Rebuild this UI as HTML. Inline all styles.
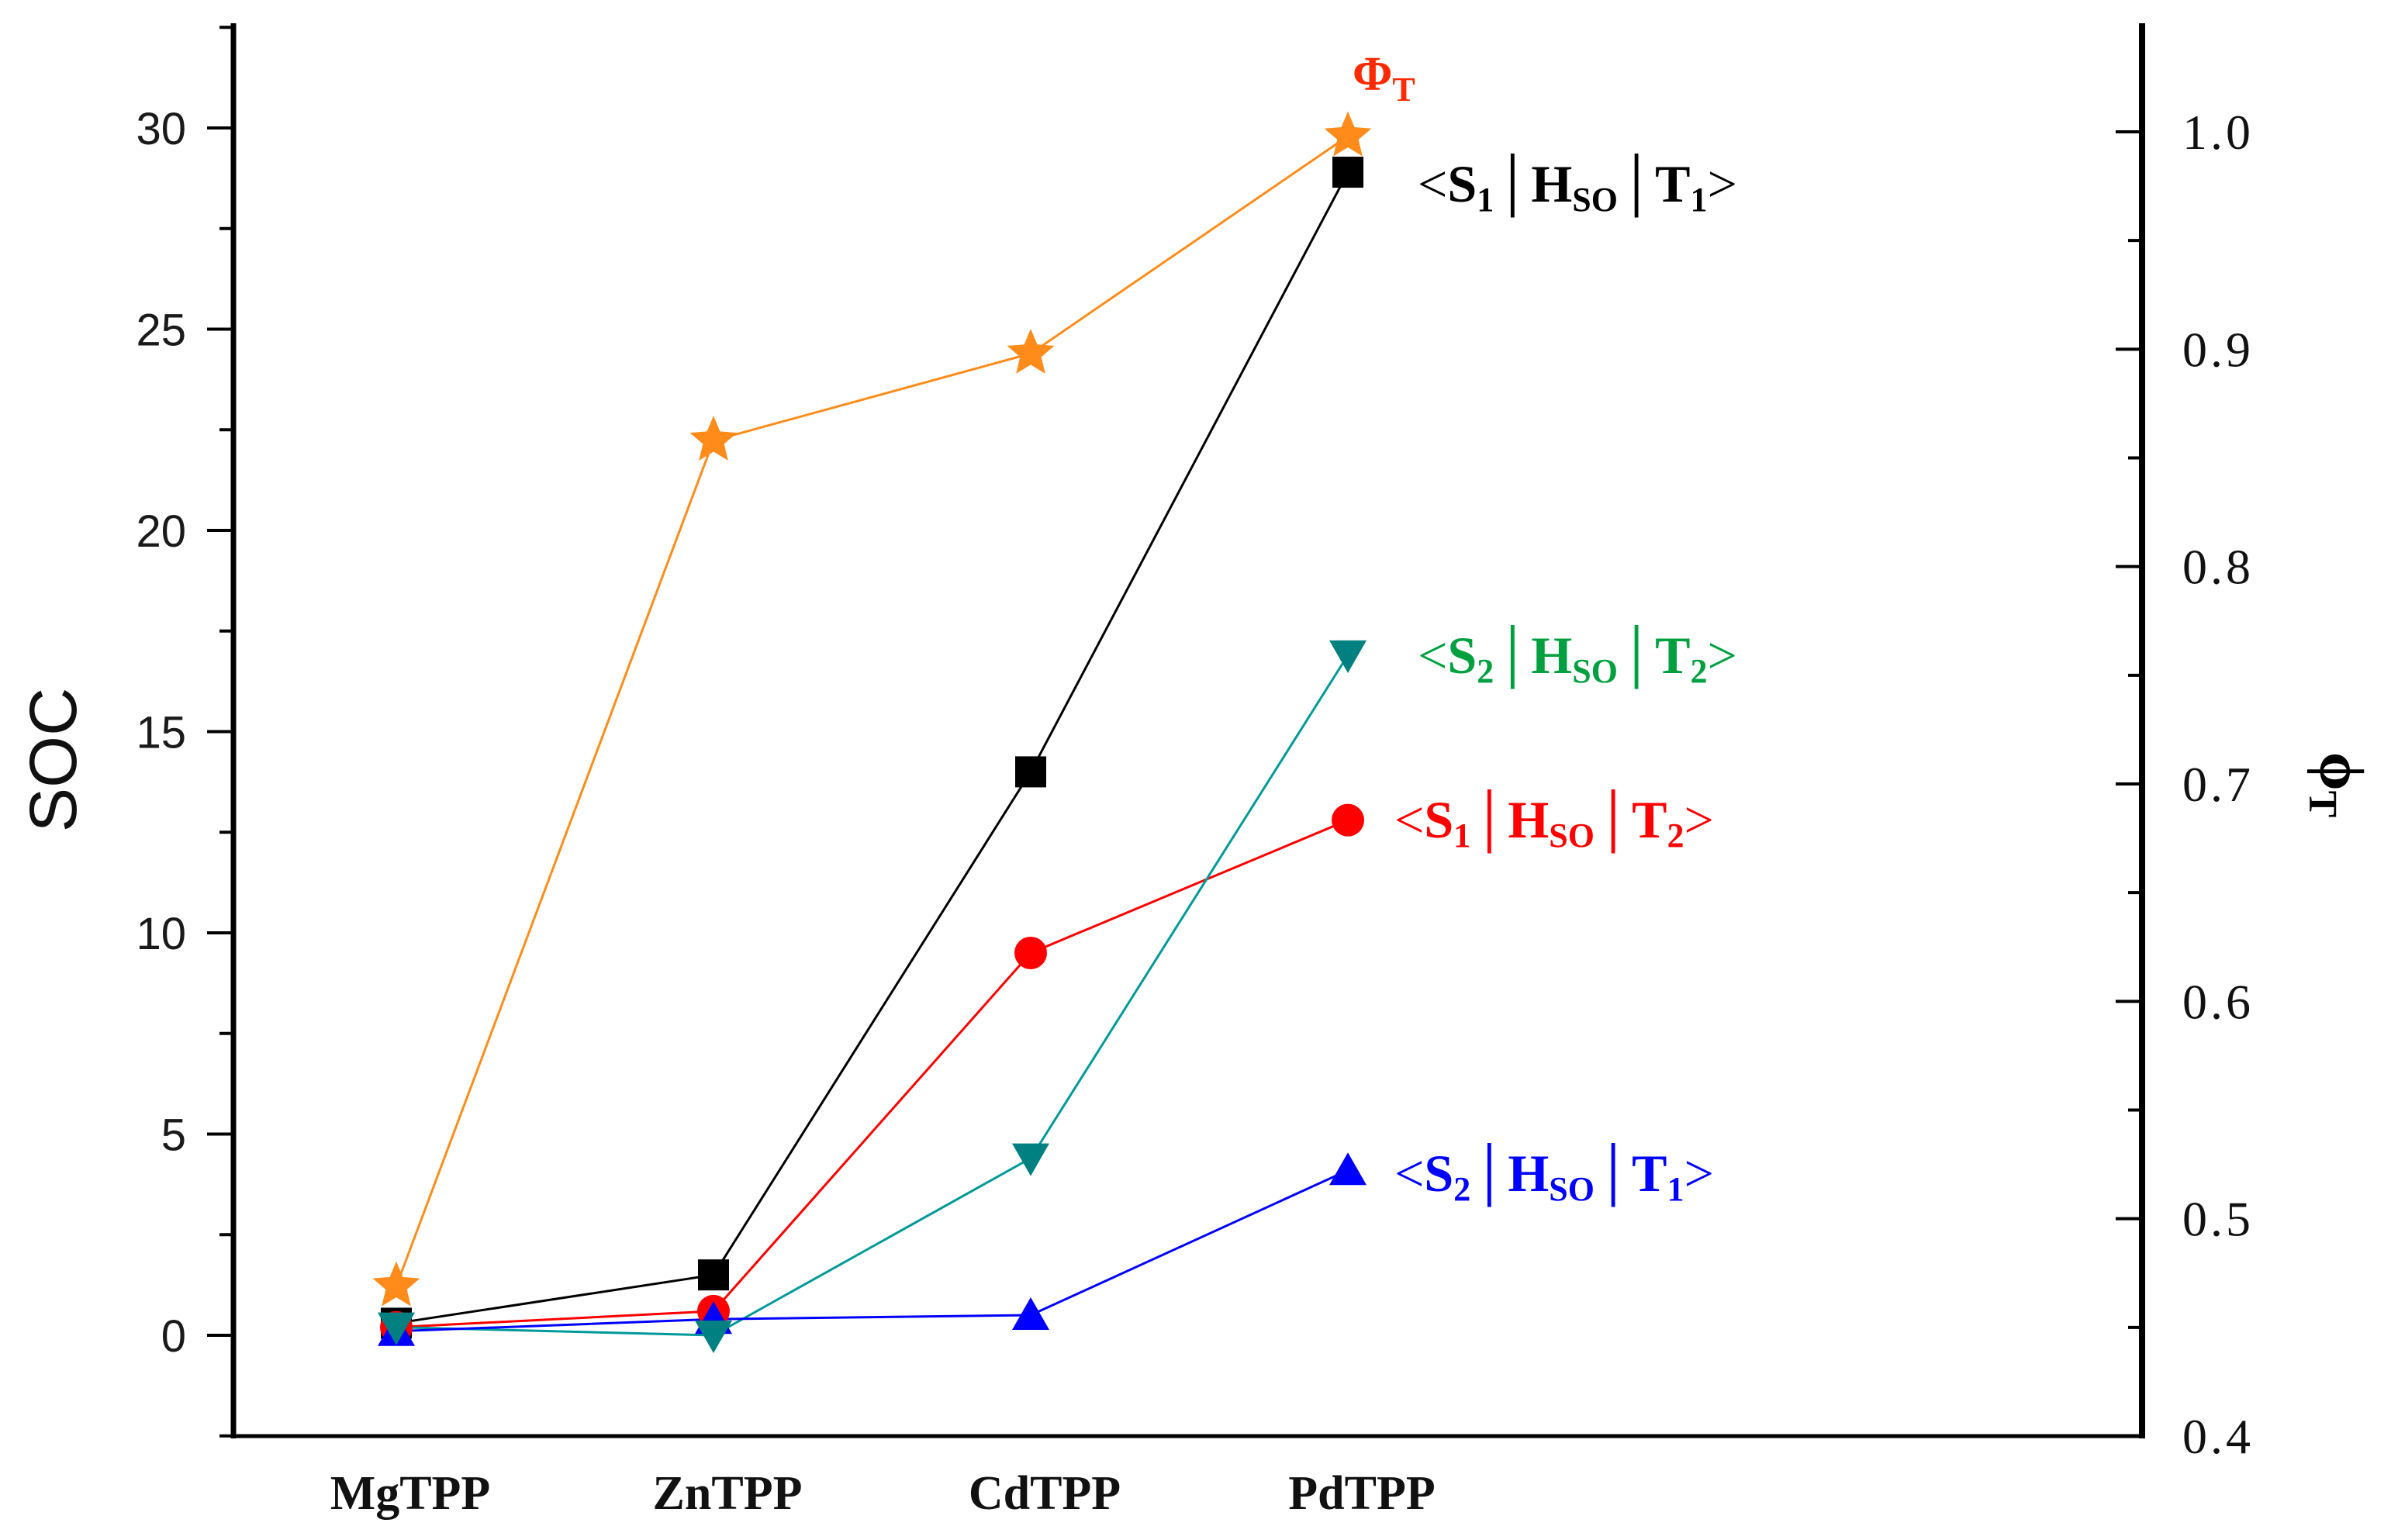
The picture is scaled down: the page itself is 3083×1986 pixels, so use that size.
<!DOCTYPE html>
<html><head><meta charset="utf-8"><style>
html,body{margin:0;padding:0;background:#fff;}
svg{display:block;}
</style></head><body>
<svg id="chart" width="3083" height="1986" viewBox="0 0 3083 1986" xmlns="http://www.w3.org/2000/svg">
<g id="axes"></g>
<g id="series"></g>
<g id="labels">
  <text x="1744" y="116" fill="#ff2a00" font-family="Liberation Serif, serif" font-weight="bold" font-size="62">Φ<tspan font-size="44" dy="14">T</tspan></text>
  <text x="1828" y="260" fill="#000" font-family="Liberation Serif, serif" font-weight="bold" font-size="68"><tspan font-weight="normal">&lt;</tspan>S<tspan font-size="44" dy="12">1</tspan><tspan dy="-12" font-weight="normal">│</tspan>H<tspan font-size="44" dy="12">SO</tspan><tspan dy="-12" font-weight="normal">│</tspan>T<tspan font-size="44" dy="12">1</tspan><tspan dy="-12" font-weight="normal">&gt;</tspan></text>
  <text x="1828" y="868" fill="#00a040" font-family="Liberation Serif, serif" font-weight="bold" font-size="68"><tspan font-weight="normal">&lt;</tspan>S<tspan font-size="44" dy="12">2</tspan><tspan dy="-12" font-weight="normal">│</tspan>H<tspan font-size="44" dy="12">SO</tspan><tspan dy="-12" font-weight="normal">│</tspan>T<tspan font-size="44" dy="12">2</tspan><tspan dy="-12" font-weight="normal">&gt;</tspan></text>
  <text x="1798" y="1080" fill="#ff0000" font-family="Liberation Serif, serif" font-weight="bold" font-size="68"><tspan font-weight="normal">&lt;</tspan>S<tspan font-size="44" dy="12">1</tspan><tspan dy="-12" font-weight="normal">│</tspan>H<tspan font-size="44" dy="12">SO</tspan><tspan dy="-12" font-weight="normal">│</tspan>T<tspan font-size="44" dy="12">2</tspan><tspan dy="-12" font-weight="normal">&gt;</tspan></text>
  <text x="1798" y="1536" fill="#0000ff" font-family="Liberation Serif, serif" font-weight="bold" font-size="68"><tspan font-weight="normal">&lt;</tspan>S<tspan font-size="44" dy="12">2</tspan><tspan dy="-12" font-weight="normal">│</tspan>H<tspan font-size="44" dy="12">SO</tspan><tspan dy="-12" font-weight="normal">│</tspan>T<tspan font-size="44" dy="12">1</tspan><tspan dy="-12" font-weight="normal">&gt;</tspan></text>
  <text transform="translate(98,980) rotate(-90)" text-anchor="middle" font-family="Liberation Sans, sans-serif" font-size="86" fill="#111">SOC</text>
  <text transform="translate(2992,1012) rotate(90)" text-anchor="middle" font-family="Liberation Serif, serif" font-weight="bold" font-size="80">ϕ<tspan font-size="52" dy="14">T</tspan></text>
</g>
</svg>
<script>
const categories = ["MgTPP","ZnTPP","CdTPP","PdTPP"];
const socTicks = [0,5,10,15,20,25,30];
const phiTicks = ["0.4","0.5","0.6","0.7","0.8","0.9","1.0"];
const s1t1 = [0.3, 1.5, 14.0, 28.9];
const s1t2 = [0.2, 0.6, 9.5, 12.8];
const s2t2 = [0.2, 0.0, 4.4, 16.9];
const s2t1 = [0.1, 0.4, 0.5, 4.1];
const phiT = [0.469, 0.858, 0.898, 0.998];

const NS = "http://www.w3.org/2000/svg";
const L = 301, R = 2762, T = 30, B = 1852;
function xPos(i){ return 511 + i*409; }
function yL(v){ return 1722 - v*(1722-165)/30; }
function yR(v){ return B - (v-0.4)*(B-170)/0.6; }
function mk(tag, attrs, parent){ const el=document.createElementNS(NS,tag); for(const k in attrs) el.setAttribute(k,attrs[k]); parent.appendChild(el); return el; }
const axes = document.getElementById('axes');
const ser = document.getElementById('series');

let e;
e = mk('line',{x1:L,y1:T,x2:L,y2:B+3,stroke:'#000','stroke-width':7},axes);


e = mk('line',{x1:R,y1:T,x2:R,y2:B+3,stroke:'#000','stroke-width':8},axes);


e = mk('line',{x1:L,y1:B,x2:R,y2:B,stroke:'#000','stroke-width':5},axes);



for (let k=-1; k<=13; k++){
  const v=k*2.5; const y=yL(v); const major = (k%2===0);
  e = mk('line',{x1:L-(major?34:18),y1:y,x2:L,y2:y,stroke:'#000','stroke-width':4},axes);
  
  
}
socTicks.forEach(v=>{
  const t = mk('text',{x:240,y:yL(v)+21,'text-anchor':'end','font-family':'Liberation Sans, sans-serif','font-size':58,fill:'#1a1a1a'},axes);
  t.textContent = v;
  
  
});
for (let k=0;k<=13;k++){
  const v=0.4+k*0.05; const y=yR(v); const major=k%2===0;
  if (y<T) continue;
  e = mk('line',{x1:R-(major?34:18),y1:y,x2:R,y2:y,stroke:'#000','stroke-width':4},axes);
  
  
}
phiTicks.forEach(s=>{
  const t = mk('text',{x:2814,y:yR(parseFloat(s))+22,'font-family':'Liberation Serif, serif','font-size':64,'letter-spacing':'4',fill:'#111'},axes);
  t.textContent = s;
  
  
});
categories.forEach((c,i)=>{
  const t = mk('text',{x:xPos(i)+18,y:1946,'text-anchor':'middle','font-family':'Liberation Serif, serif','font-weight':'bold','font-size':62,fill:'#111'},axes);
  t.textContent = c;
  
  
});

function line(vals, yf, color, name, w){
  const pts = vals.map((v,i)=>xPos(i)+','+yf(v)).join(' ');
  const p = mk('polyline',{points:pts,fill:'none',stroke:color,'stroke-width':w||3},ser);
  
  
}
function star(cx,cy,r,color){
  let d='';
  for(let k=0;k<10;k++){ const a=-Math.PI/2+k*Math.PI/5; const rr=k%2?r*0.45:r; d+=(k?'L':'M')+(cx+rr*Math.cos(a))+','+(cy+rr*Math.sin(a)); }
  return mk('path',{d:d+'Z',fill:color},ser);
}
line(phiT, yR, '#ff8c1a', 'phi-t-line', 3);
line(s1t1, yL, '#000', 's1-t1-line', 3);
line(s1t2, yL, '#ff0000', 's1-t2-line', 3);
line(s2t2, yL, '#009999', 's2-t2-line', 3);
line(s2t1, yL, '#0000ff', 's2-t1-line', 3);

s1t1.forEach((v,i)=>{
  const m = mk('rect',{x:xPos(i)-20,y:yL(v)-20,width:40,height:40,fill:'#000'},ser);
  
  
});
s1t2.forEach((v,i)=>{
  const m = mk('circle',{cx:xPos(i),cy:yL(v),r:21,fill:'#ff0000'},ser);
  
  
});
s2t1.forEach((v,i)=>{
  const x=xPos(i), y=yL(v);
  const m = mk('polygon',{points:(x-24)+','+(y+19)+' '+(x+24)+','+(y+19)+' '+x+','+(y-23),fill:'#0000ff'},ser);
  
  
});
s2t2.forEach((v,i)=>{
  const x=xPos(i), y=yL(v);
  const m = mk('polygon',{points:(x-24)+','+(y-19)+' '+(x+24)+','+(y-19)+' '+x+','+(y+23),fill:'#008080'},ser);
  
  
});
phiT.forEach((v,i)=>{
  const m = star(xPos(i), yR(v), 32, '#ff8c1a');
  
  
});
</script>
</body></html>
